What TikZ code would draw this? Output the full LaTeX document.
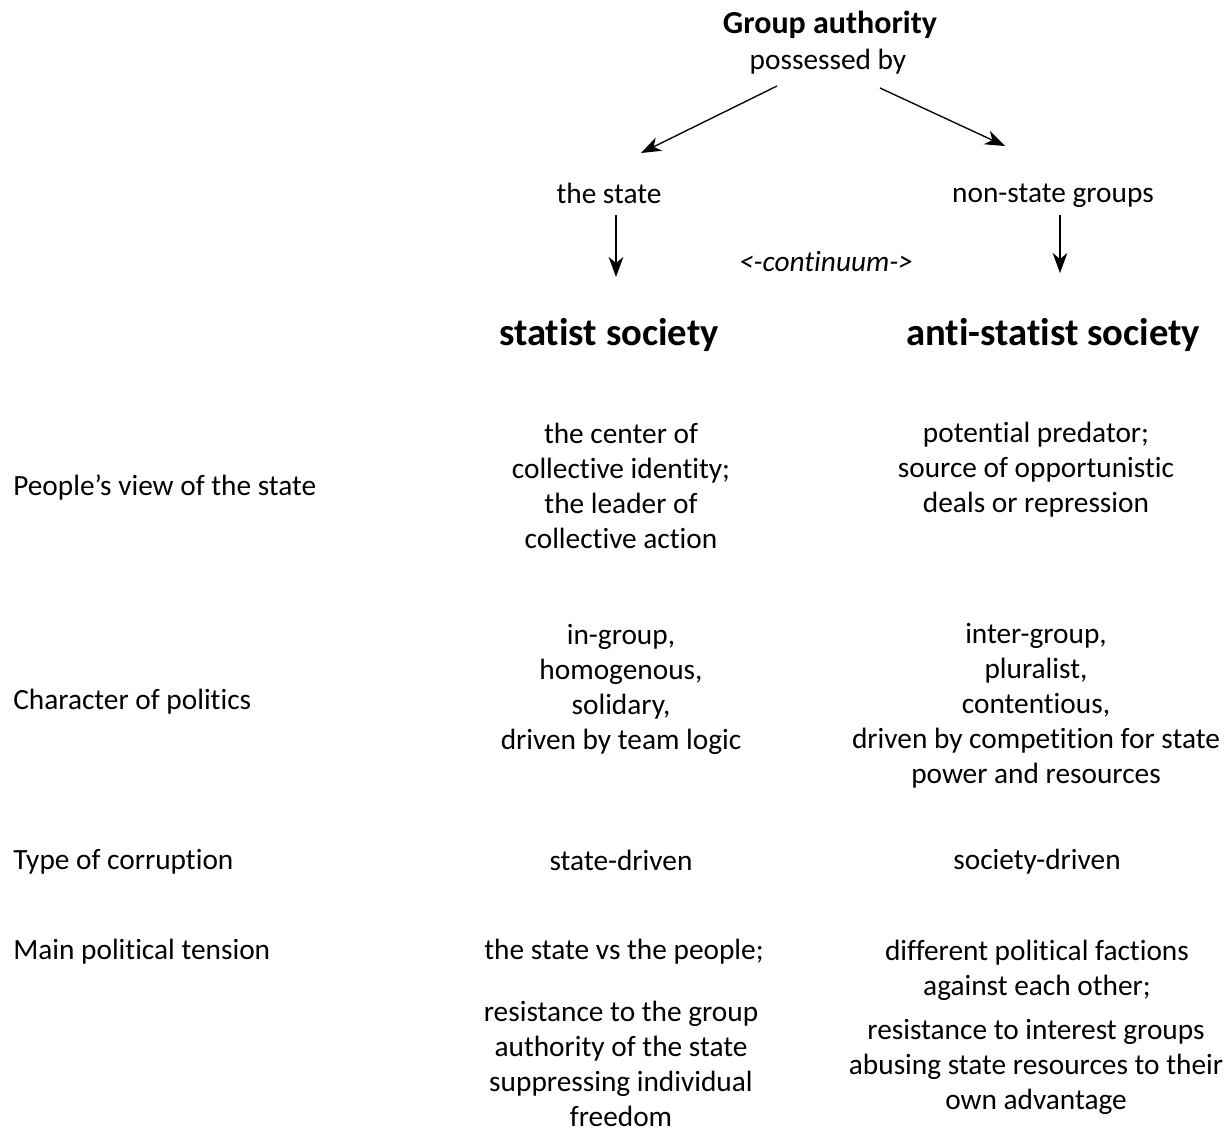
\documentclass[tikz,border=0pt]{standalone}
\usepackage{fontspec}
\setmainfont{Carlito}[Ligatures={NoCommon}]
\usetikzlibrary{arrows.meta,positioning}

\tikzset{
  txt/.style={inner sep=0pt, align=center, font=\fontsize{22}{26.25}\selectfont},
  rowlabel/.style={txt, anchor=west, align=left},
  head/.style={inner sep=0pt, font=\fontsize{29}{34}\selectfont\bfseries},
  arr/.style={-{Stealth[length=15pt,width=11pt,inset=4.5pt]}, line width=1pt}
}

\begin{document}
\begin{tikzpicture}[x=0.75pt,y=-0.75pt]
  \useasboundingbox (0,0) rectangle (1231,1133);

  % the tree on top
  \node[txt, font=\fontsize{24}{28}\selectfont\bfseries] (group) at (830,25) {Group authority};
  \node[txt] (poss) at (828,62) {possessed by};
  \node[txt] (state) at (609,193) {the state};
  \node[txt] (nonstate) at (1053,196) {non-state groups};
  \node[txt, font=\fontsize{22}{26.25}\selectfont\itshape] (cont) at (826,262) {<-continuum->};
  \node[head] (statist) at (609,335) {statist society};
  \node[head] (antistatist) at (1053,335) {anti-statist society};

  \draw[arr] ([shift={(-51,24)}]poss.center) -- ([shift={(32,-40)}]state.center);
  \draw[arr] ([shift={(52,26)}]poss.center) -- ([shift={(-48,-50)}]nonstate.center);
  \draw[arr] ([shift={(7,22)}]state.center) -- ([shift={(7,84)}]state.center);
  \draw[arr] ([shift={(7,19)}]nonstate.center) -- ([shift={(7,77)}]nonstate.center);

  % rows
  \node[rowlabel] (view) at (13,488) {People’s view of the state};
  \node[txt] (viewL) at (621,486) {the center of\\collective identity;\\the leader of\\collective action};
  \node[txt] (viewR) at (1036,470) {potential predator;\\source of opportunistic\\deals or repression};

  \node[rowlabel] (char) at (13,702) {Character of politics};
  \node[txt] (charL) at (621,689) {in-group,\\homogenous,\\solidary,\\driven by team logic};
  \node[txt] (charR) at (1036,706) {inter-group,\\pluralist,\\contentious,\\driven by competition for state\\power and resources};

  \node[rowlabel] (corr) at (13,862) {Type of corruption};
  \node[txt] (corrL) at (621,860) {state-driven};
  \node[txt] (corrR) at (1037,862) {society-driven};

  \node[rowlabel] (tens) at (13,952) {Main political tension};
  \node[txt] (tensLa) at (624,952) {the state vs the people;};
  \node[txt] (tensLb) at (621,1064) {resistance to the group\\authority of the state\\suppressing individual\\freedom};
  \node[txt] (tensRa) at (1037,970) {different political factions\\against each other;};
  \node[txt] (tensRb) at (1036,1067) {resistance to interest groups\\abusing state resources to their\\own advantage};
\end{tikzpicture}
\end{document}
